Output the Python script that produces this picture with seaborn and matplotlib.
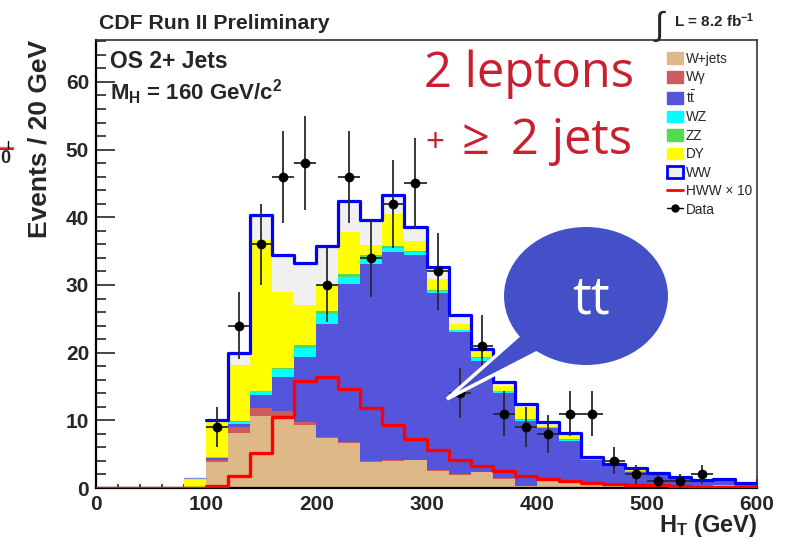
import numpy as np
import pandas as pd
import matplotlib
matplotlib.use("Agg")
import matplotlib.pyplot as plt
import seaborn as sns
from matplotlib.patches import Ellipse, Polygon, Patch
from matplotlib.lines import Line2D

# ---------------- data (HT bins of 20 GeV, 0..600) ----------------
bin_edges = [0, 20, 40, 60, 80, 100, 120, 140, 160, 180, 200, 220, 240, 260, 280,
             300, 320, 340, 360, 380, 400, 420, 440, 460, 480, 500, 520, 540, 560, 580, 600]
bin_centers = [10, 30, 50, 70, 90, 110, 130, 150, 170, 190, 210, 230, 250, 270, 290,
               310, 330, 350, 370, 390, 410, 430, 450, 470, 490, 510, 530, 550, 570, 590]

wjets  = [0, 0, 0, 0, 0, 3.8, 8.2, 10.7, 10.5, 9.3, 7.4, 6.7, 3.9, 4.0, 4.1,
          2.5, 1.9, 2.3, 1.4, 0.3, 1.4, 0.9, 0.6, 0.4, 0.3, 0.3, 0.25, 0.2, 0.4, 0.1]
wgamma = [0, 0, 0, 0, 0, 0.4, 0.85, 1.1, 0.9, 0.5, 0.2, 0.1, 0.1, 0.1, 0.1,
          0.1, 0.1, 0.1, 0.1, 0.05, 0.1, 0.1, 0.1, 0.05, 0.05, 0.05, 0.05, 0.05, 0.05, 0.05]
ttbar  = [0, 0, 0, 0, 0, 0.3, 0.45, 1.9, 5.0, 9.6, 16.7, 23.4, 29.1, 30.7, 30.2,
          26.2, 21.1, 16.4, 12.5, 9.55, 7.3, 5.9, 3.5, 2.75, 2.05, 1.55, 1.1, 0.75, 0.8, 0.55]
wz     = [0, 0, 0, 0, 0, 0.05, 0.3, 0.6, 1.2, 1.3, 1.4, 1.0, 1.1, 0.7, 0.5,
          0.3, 0.2, 0.4, 0.3, 0.2, 0.2, 0.2, 0.1, 0.1, 0.1, 0.1, 0.05, 0.05, 0.05, 0.02]
zz     = [0, 0, 0, 0, 0, 0.05, 0.05, 0.1, 0.2, 0.4, 0.4, 0.4, 0.2, 0.2, 0.1,
          0.1, 0.1, 0.1, 0.1, 0.1, 0.05, 0.1, 0.05, 0.05, 0.05, 0, 0.05, 0.05, 0, 0.02]
dy     = [0, 0, 0, 0, 1.3, 5.2, 8.35, 22.2, 11.2, 6.0, 3.7, 6.3, 1.5, 4.8, 1.5,
          1.7, 0.9, 0.9, 0.6, 1.7, 0.25, 0.6, 0.05, 0.05, 0.2, 0.05, 0, 0, 0, 0.01]
ww     = [0, 0, 0, 0, 0.2, 0.3, 1.7, 3.8, 5.4, 6.1, 6.0, 4.5, 3.7, 2.8, 2.1,
          1.7, 1.3, 0.4, 0.6, 0.5, 0.4, 0.3, 0.2, 0.1, 0.15, 0.15, 0.1, 0.1, 0.1, 0.05]
hww_x10 = [0, 0, 0, 0, 0, 0.3, 1.7, 5.1, 10.5, 15.8, 16.4, 14.6, 11.8, 9.3, 7.3,
           5.6, 4.2, 3.2, 2.5, 1.8, 1.3, 1.1, 0.8, 0.6, 0.5, 0.4, 0.3, 0.2, 0.2, 0.1]

data_x   = [110, 130, 150, 170, 190, 210, 230, 250, 270, 290, 310, 330, 350,
            370, 390, 410, 430, 450, 470, 490, 510, 530, 550]
data_y   = [9, 24, 36, 46, 48, 30, 46, 34, 42, 45, 32, 14, 21,
            11, 9, 8, 11, 11, 4, 2, 1, 1, 2]
data_err = [3.0, 4.9, 6.0, 6.8, 6.9, 5.5, 6.8, 5.8, 6.5, 6.7, 5.7, 3.7, 4.6,
            3.3, 3.0, 2.8, 3.3, 3.3, 2.0, 1.4, 1.0, 1.0, 1.4]

process_names = ["W+jets", "W\u03b3", r"$\mathrm{t\bar{t}}$", "WZ", "ZZ", "DY", "WW"]
process_vals = [wjets, wgamma, ttbar, wz, zz, dy, ww]
process_colors = ["#deb887", "#cd5c5c", "#5555dc", "#00ffff", "#55d855", "#ffff00", "#f0f0f0"]

# ---------------- style ----------------
sns.set_style("white")
plt.rcParams["font.family"] = ["Liberation Sans", "DejaVu Sans"]
plt.rcParams["mathtext.fontset"] = "custom"
plt.rcParams["mathtext.rm"] = "Liberation Sans"
plt.rcParams["mathtext.bf"] = "Liberation Sans:bold"
plt.rcParams["mathtext.it"] = "Liberation Sans:italic"

W, H = 788, 540
fig = plt.figure(figsize=(W / 100, H / 100), dpi=100)
ax = fig.add_axes([96 / W, 1 - 488 / H, (757 - 96) / W, (488 - 40) / H])


def fx(px):
    return px / W


def fy(py):
    return 1 - py / H


# stacked backgrounds: draw cumulative layers, top-most first
cum = np.cumsum(np.array(process_vals, dtype=float), axis=0)
df = pd.DataFrame({"HT": bin_centers})
for i in range(len(process_names) - 1, -1, -1):
    df["w"] = cum[i]
    sns.histplot(data=df, x="HT", weights="w", bins=bin_edges, element="step",
                 fill=True, color=process_colors[i], alpha=1.0, linewidth=0,
                 ax=ax, zorder=2 + (len(process_names) - i) * 0.01)

# total (WW outline)
df["total"] = cum[-1]
sns.histplot(data=df[(df["HT"] > 80) & (df["HT"] < 100)], x="HT", weights="total",
             bins=bin_edges[4:6], element="step", fill=False, color="#9090e0",
             linewidth=1.0, ax=ax, zorder=3)
sns.histplot(data=df[df["HT"] > 100], x="HT", weights="total", bins=bin_edges[5:],
             element="step", fill=False, color="#0000ff", linewidth=2.3, ax=ax, zorder=3)

# HWW x 10
df["hww"] = hww_x10
sns.histplot(data=df, x="HT", weights="hww", bins=bin_edges, element="step",
             fill=False, color="#ff0000", linewidth=2.4, ax=ax, zorder=4)

# data
ax.errorbar(data_x, data_y, yerr=data_err, xerr=10, fmt="o", color="black",
            ecolor="#2a2a2a", elinewidth=1.3, markersize=6, capsize=0, zorder=5)

ax.set_xlim(0, 600)
ax.set_ylim(0, 66.2)
ax.set_xlabel("")
ax.set_ylabel("")
ax.set_xticks([0, 100, 200, 300, 400, 500, 600])
ax.set_xticks(np.arange(0, 601, 20), minor=True)
ax.set_yticks([0, 10, 20, 30, 40, 50, 60])
ax.set_yticks(np.arange(0, 67, 2), minor=True)
ax.tick_params(axis="y", which="major", direction="in", length=13.5, width=1.2,
               labelsize=15, pad=5, left=True)
ax.tick_params(axis="y", which="minor", direction="in", length=7, width=1.2, left=True)
ax.tick_params(axis="x", which="major", direction="in", length=6.5, width=1.2,
               labelsize=15, pad=5, bottom=True)
ax.tick_params(axis="x", which="minor", direction="in", length=3.2, width=1.2, bottom=True)
for lab in ax.get_xticklabels() + ax.get_yticklabels():
    lab.set_fontweight("bold")
for s in ["left", "bottom"]:
    ax.spines[s].set_linewidth(1.6)
    ax.spines[s].set_color("black")
for s in ["top", "right"]:
    ax.spines[s].set_linewidth(1.2)
    ax.spines[s].set_color("#333333")
    ax.spines[s].set_visible(True)

# axis titles
fig.text(fx(757), fy(532), r"$\mathbf{H_T}$ (GeV)", ha="right", va="baseline",
         fontsize=17, fontweight="bold")
fig.text(fx(40), fy(40), "Events / 20 GeV", rotation=90, ha="center", va="top",
         fontsize=19, fontweight="bold")

# titles / labels
fig.text(fx(99), fy(29), "CDF Run II Preliminary", ha="left", va="baseline",
         fontsize=15.3, fontweight="bold")
fig.text(fx(110), fy(68), "OS 2+ Jets", ha="left", va="baseline",
         fontsize=16.5, fontweight="bold")
fig.text(fx(110), fy(100), r"$\mathbf{M_H}$ = 160 GeV/c$^{\mathbf{2}}$", ha="left",
         va="baseline", fontsize=16, fontweight="bold")
fig.text(fx(653), fy(35), r"$\int$", ha="left", va="baseline", fontsize=24)
fig.text(fx(674), fy(27), r"L = 8.2 fb$^{\mathbf{-1}}$", ha="left", va="baseline",
         fontsize=11, fontweight="bold")

# left-edge artifact
fig.text(fx(0), fy(163), "0", ha="left", va="baseline", fontsize=13, fontweight="bold")
fig.add_artist(Line2D([fx(0), fx(13)], [fy(149), fy(149)], color="#ff0000", lw=1.5))
fig.add_artist(Line2D([fx(0), fx(13)], [fy(147), fy(147)], color="#8888cc", lw=1))
fig.add_artist(Line2D([fx(8), fx(8)], [fy(141), fy(148)], color="black", lw=1))

# legend
handles = [Patch(facecolor=c, edgecolor=c) for c in process_colors[:6]]
handles.append(Patch(facecolor="#f0f0f0", edgecolor="#0000ff", linewidth=2))
handles.append(Line2D([], [], color="#ff0000", lw=2))
handles.append(Line2D([], [], color="black", lw=1, marker="o", markersize=5))
labels = process_names + ["HWW \u00d7 10", "Data"]
fig.legend(handles, labels, loc="upper left", bbox_to_anchor=(fx(667), fy(52)),
           frameon=False, fontsize=9.8, handlelength=1.2, handleheight=0.95,
           handletextpad=0.2, labelspacing=0.33, borderpad=0, borderaxespad=0)

# annotations
red_c = "#c8202f"
ofont = ["Open Sans", "DejaVu Sans"]
fig.text(fx(424), fy(87), "2 leptons", ha="left", va="baseline", fontsize=35.2,
         color=red_c, family=ofont)
fig.text(fx(425), fy(152), "+", ha="left", va="baseline", fontsize=24,
         color=red_c, family=ofont)
fig.text(fx(461), fy(154), "\u2265", ha="left", va="baseline", fontsize=35.2,
         color=red_c, family=ofont)
fig.text(fx(511), fy(154), "2 jets", ha="left", va="baseline", fontsize=35.2,
         color=red_c, family=ofont)

bubble_c = "#4450c8"
tail = Polygon([(fx(525), fy(330)), (fx(542), fy(350)), (fx(447), fy(399))],
               closed=True, facecolor=bubble_c, edgecolor="white", linewidth=2.5,
               transform=fig.transFigure, zorder=6)
fig.add_artist(tail)
ell = Ellipse((fx(586), fy(296)), width=164 / W, height=138 / H, facecolor=bubble_c,
              edgecolor="none", transform=fig.transFigure, zorder=7)
fig.add_artist(ell)
fig.text(fx(591), fy(313), "tt", ha="center", va="baseline", fontsize=38,
         color="white", family=ofont, zorder=8)

fig.savefig("out.png", dpi=100)
